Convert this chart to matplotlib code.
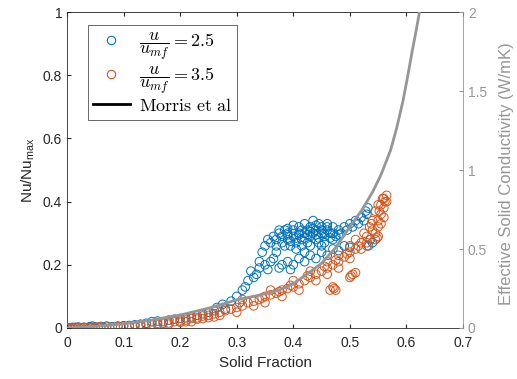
import numpy as np
import matplotlib.pyplot as plt
from matplotlib.lines import Line2D

plt.rcParams['font.family'] = ['Liberation Sans', 'DejaVu Sans']
plt.rcParams['mathtext.fontset'] = 'cm'

# u/umf = 2.5
blue_x = [0.0, 0.005, 0.01, 0.015, 0.02, 0.03, 0.04, 0.045, 0.05, 0.06, 0.07, 0.08, 0.09, 0.1,
          0.11, 0.12, 0.13, 0.14, 0.15, 0.16, 0.17, 0.18, 0.19, 0.2, 0.21, 0.22, 0.23, 0.24,
          0.25, 0.26, 0.265, 0.275, 0.28, 0.29, 0.3, 0.305, 0.31, 0.315, 0.32, 0.33, 0.335,
          0.34, 0.35, 0.355, 0.36, 0.365, 0.37,
          0.38, 0.39, 0.4, 0.41, 0.42, 0.43, 0.44, 0.45, 0.46, 0.47, 0.48, 0.49, 0.5, 0.375, 0.395,
          0.36, 0.365, 0.37, 0.375, 0.38, 0.38, 0.385, 0.39, 0.39, 0.395, 0.4, 0.4, 0.405, 0.41,
          0.41, 0.415, 0.42, 0.42, 0.425, 0.425, 0.43, 0.43, 0.435, 0.435, 0.44, 0.44, 0.445,
          0.45, 0.45, 0.455, 0.46, 0.46, 0.465, 0.47, 0.475, 0.48, 0.485, 0.49, 0.495, 0.5,
          0.505, 0.51, 0.515, 0.52, 0.525, 0.405, 0.415, 0.43, 0.445, 0.455, 0.47, 0.385, 0.37,
          0.35, 0.355,
          0.39, 0.395, 0.405, 0.41, 0.415, 0.42, 0.425, 0.43, 0.44, 0.445, 0.45, 0.455, 0.465,
          0.47, 0.48, 0.39, 0.4, 0.435, 0.44, 0.46, 0.375, 0.345, 0.325, 0.34, 0.42, 0.45,
          0.528, 0.532, 0.53, 0.536, 0.54, 0.533]
blue_y = [0.0, 0.0, 0.002, 0.001, 0.003, 0.002, 0.004, 0.006, 0.003, 0.005, 0.006, 0.004, 0.006, 0.007,
          0.008, 0.01, 0.012, 0.015, 0.02, 0.022, 0.02, 0.025, 0.028, 0.03, 0.032, 0.035, 0.04, 0.045,
          0.05, 0.055, 0.065, 0.075, 0.06, 0.085, 0.1, 0.08, 0.12, 0.13, 0.15, 0.16, 0.17,
          0.19, 0.2, 0.185, 0.21, 0.22, 0.24,
          0.2, 0.21, 0.2, 0.22, 0.21, 0.23, 0.22, 0.24, 0.23, 0.25, 0.245, 0.26, 0.255, 0.19, 0.185,
          0.27, 0.29, 0.28, 0.3, 0.27, 0.29, 0.31, 0.28, 0.3, 0.26, 0.29, 0.31, 0.27, 0.3,
          0.32, 0.28, 0.3, 0.33, 0.27, 0.31, 0.29, 0.32, 0.34, 0.3, 0.28, 0.31, 0.33,
          0.3, 0.32, 0.29, 0.31, 0.33, 0.3, 0.32, 0.29, 0.31, 0.3, 0.32, 0.31, 0.33,
          0.32, 0.34, 0.33, 0.35, 0.34, 0.25, 0.26, 0.26, 0.27, 0.27, 0.28, 0.26, 0.26,
          0.26, 0.28,
          0.295, 0.275, 0.285, 0.295, 0.31, 0.285, 0.295, 0.305, 0.295, 0.285, 0.31, 0.3, 0.285,
          0.3, 0.295, 0.315, 0.325, 0.315, 0.325, 0.32, 0.31, 0.24, 0.18, 0.21, 0.24, 0.26,
          0.37, 0.38, 0.36, 0.28, 0.27, 0.26]

# u/umf = 3.5
orange_x = [0.0, 0.005, 0.01, 0.015, 0.02, 0.025, 0.03, 0.035, 0.04, 0.045, 0.05, 0.055, 0.06,
            0.065, 0.07, 0.08, 0.09, 0.1, 0.11, 0.12, 0.13, 0.14, 0.15, 0.16, 0.17, 0.18, 0.19,
            0.2, 0.21, 0.22, 0.23, 0.24, 0.25, 0.26, 0.27, 0.28, 0.29, 0.3, 0.31, 0.32, 0.33,
            0.34, 0.35, 0.36, 0.37, 0.38, 0.39, 0.4, 0.41, 0.42, 0.43, 0.44, 0.45, 0.46, 0.47,
            0.48, 0.49, 0.5, 0.51, 0.52, 0.53, 0.54, 0.55, 0.555, 0.56, 0.562, 0.565, 0.558,
            0.55, 0.545,
            0.22, 0.26, 0.3, 0.31, 0.33, 0.35, 0.36, 0.38, 0.4, 0.41, 0.43, 0.44, 0.46, 0.46,
            0.48, 0.48, 0.5, 0.5, 0.51, 0.52, 0.53, 0.535, 0.54, 0.545, 0.55, 0.555, 0.56,
            0.555, 0.565,
            0.465, 0.47, 0.475, 0.472, 0.5, 0.505, 0.51, 0.502, 0.545, 0.55, 0.548, 0.53,
            0.13, 0.16, 0.18, 0.2, 0.21, 0.23, 0.24, 0.25, 0.27,
            0.345, 0.375, 0.395, 0.425, 0.455, 0.475, 0.495, 0.515, 0.525, 0.538, 0.552, 0.56]
orange_y = [0.0, 0.001, 0.0, 0.002, 0.001, 0.0, 0.002, 0.001, 0.0, 0.002, 0.001, 0.003, 0.002,
            0.001, 0.003, 0.002, 0.004, 0.005, 0.004, 0.007, 0.008, 0.01, 0.012, 0.011, 0.015,
            0.016, 0.02, 0.022, 0.025, 0.03, 0.032, 0.038, 0.04, 0.045, 0.05, 0.055, 0.06,
            0.065, 0.07, 0.08, 0.085, 0.09, 0.1, 0.105, 0.11, 0.12, 0.125, 0.13, 0.14, 0.15,
            0.16, 0.17, 0.18, 0.19, 0.2, 0.21, 0.225, 0.24, 0.25, 0.27, 0.29, 0.31, 0.34, 0.36,
            0.38, 0.4, 0.42, 0.41, 0.39, 0.37,
            0.02, 0.035, 0.05, 0.09, 0.07, 0.08, 0.12, 0.1, 0.15, 0.12, 0.18, 0.15, 0.17, 0.21,
            0.19, 0.23, 0.22, 0.26, 0.28, 0.25, 0.27, 0.32, 0.34, 0.3, 0.32, 0.33, 0.35,
            0.39, 0.4,
            0.12, 0.13, 0.12, 0.125, 0.16, 0.17, 0.175, 0.165, 0.28, 0.29, 0.285, 0.26,
            0.006, 0.015, 0.012, 0.018, 0.02, 0.028, 0.03, 0.033, 0.04,
            0.095, 0.115, 0.135, 0.165, 0.195, 0.215, 0.235, 0.26, 0.3, 0.33, 0.37, 0.41]

# Morris et al (right axis, W/mK)
morris_x = [0.0, 0.05, 0.1, 0.15, 0.2, 0.25, 0.3, 0.34, 0.375, 0.4, 0.422, 0.45, 0.475, 0.5,
            0.52, 0.54, 0.555, 0.572, 0.583, 0.594, 0.602, 0.61, 0.617, 0.623]
morris_y = [0.0, 0.01, 0.026, 0.05, 0.082, 0.125, 0.178, 0.208, 0.24, 0.28, 0.336, 0.41, 0.51,
            0.64, 0.74, 0.86, 0.97, 1.126, 1.27, 1.44, 1.59, 1.75, 1.88, 2.0]

blue = '#0072BD'
orange = '#D95319'
grey = '#969696'

fig = plt.figure(figsize=(5.17, 3.79), dpi=100)
ax = fig.add_axes([0.1296, 0.1346, 0.7660, 0.8334])
ax2 = ax.twinx()

ax.scatter(blue_x, blue_y, s=38, facecolors='none', edgecolors=blue, linewidths=0.7, zorder=3)
ax.scatter(orange_x, orange_y, s=38, facecolors='none', edgecolors=orange, linewidths=0.7, zorder=3)
ax2.plot(morris_x, morris_y, color=grey, lw=2)

ax.set_xlim(0, 0.7)
ax.set_ylim(0, 1)
ax2.set_ylim(0, 2)
ax.set_xticks(np.arange(0, 0.71, 0.1))
ax.set_xticklabels(['0', '0.1', '0.2', '0.3', '0.4', '0.5', '0.6', '0.7'])
ax.set_yticks([0, 0.2, 0.4, 0.6, 0.8, 1])
ax.set_yticklabels(['0', '0.2', '0.4', '0.6', '0.8', '1'])
ax2.set_yticks([0, 0.5, 1, 1.5, 2])
ax2.set_yticklabels(['0', '0.5', '1', '1.5', '2'])

ax.tick_params(direction='in', length=3, labelsize=10, colors='#262626', top=True)
ax.tick_params(axis='x', pad=6)
ax2.tick_params(direction='in', length=3, labelsize=10, colors=grey)
for side in ['left', 'bottom', 'top']:
    ax.spines[side].set_color('#262626')
    ax.spines[side].set_linewidth(0.6)
ax2.spines['right'].set_color(grey)
ax2.spines['right'].set_linewidth(0.6)
ax2.spines['left'].set_visible(False)
ax2.spines['top'].set_visible(False)
ax2.spines['bottom'].set_visible(False)
ax.spines['right'].set_visible(False)

ax.set_xlabel('Solid Fraction', fontsize=11, color='#262626', labelpad=4)
ax.set_ylabel('Nu/Nu$_{\\mathregular{max}}$', fontsize=11, color='#262626', labelpad=4)
ax2.set_ylabel('Effective Solid Conductivity (W/mK)', fontsize=12, color=grey, rotation=90)
ax2.yaxis.set_label_coords(1.092, 0.49)

handles = [
    Line2D([], [], ls='none', marker='o', mfc='none', mec=blue, ms=6, mew=0.8),
    Line2D([], [], ls='none', marker='o', mfc='none', mec=orange, ms=6, mew=0.8),
    Line2D([], [], color='black', lw=2),
]
labels = [r'$\dfrac{u}{u_{mf}} = 2.5$', r'$\dfrac{u}{u_{mf}} = 3.5$', r'$\mathrm{Morris\ et\ al}$']
leg = ax.legend(handles, labels, loc='upper left', bbox_to_anchor=(0.053, 0.96),
                fontsize=13, frameon=True, fancybox=False, edgecolor='#262626',
                handlelength=2.0, handletextpad=0.5, borderpad=0.3, labelspacing=0.1,
                borderaxespad=0)
leg.get_frame().set_linewidth(0.6)

fig.savefig('out.png', dpi=100)
